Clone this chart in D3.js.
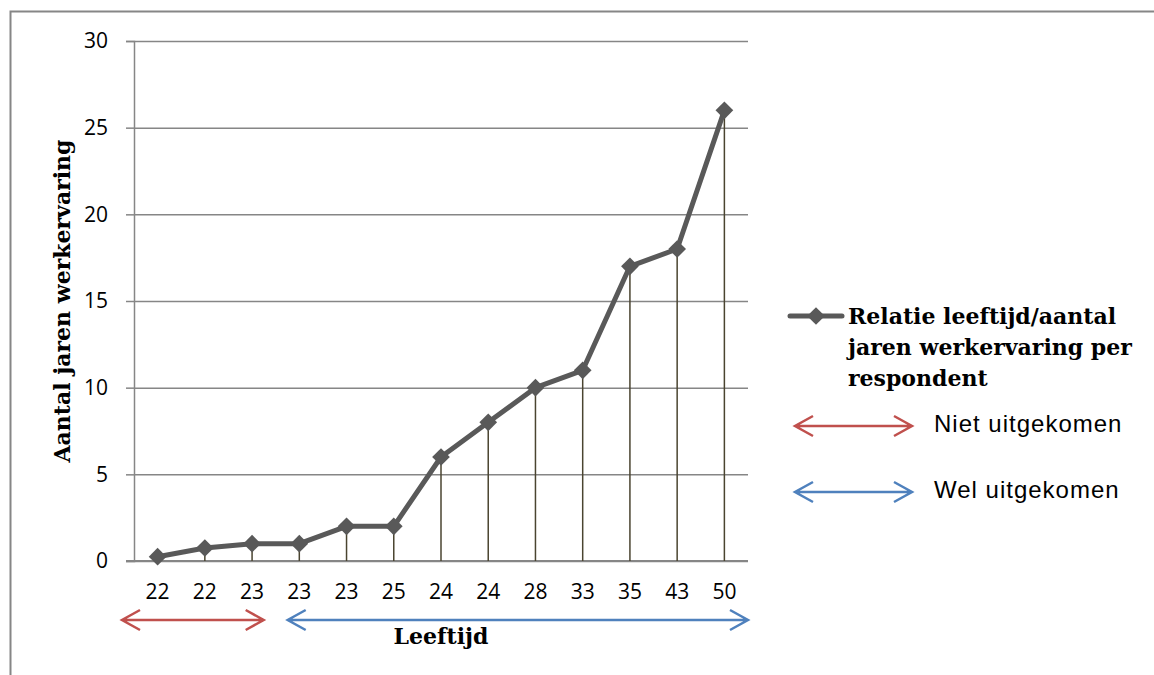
<!DOCTYPE html>
<html>
<head>
<meta charset="utf-8">
<script src="https://cdn.jsdelivr.net/npm/d3@7"></script>
<style>
  body { margin: 0; background: #fff; }
  svg text { fill: #000; }
  .serif { font-family: "DejaVu Serif", "Liberation Serif", serif; font-weight: bold; }
  .legend-plain { font-family: "Liberation Sans", "Open Sans", sans-serif; font-size: 24px; letter-spacing: 1px; }
</style>
</head>
<body>
<div id="chart"></div>
<script>
// respondent ages (x categories) and years of work experience
var ages = ["22", "22", "23", "23", "23", "25", "24", "24", "28", "33", "35", "43", "50"];
var experience = [0.25, 0.75, 1, 1, 2, 2, 6, 8, 10, 11, 17, 18, 26];
var yTicks = [0, 5, 10, 15, 20, 25, 30];
// groups: first 3 respondents "niet uitgekomen", rest "wel uitgekomen"
var groups = [
  { label: "Niet uitgekomen", from: 0, to: 2, color: "#c0504d" },
  { label: "Wel uitgekomen", from: 3, to: 12, color: "#4f81bd" }
];
var seriesName = ["Relatie leeftijd/aantal", "jaren werkervaring per", "respondent"];

var width = 1154, height = 675;
var margin = { left: 134, top: 41, right: 406, bottom: 114 };

var svg = d3.select("#chart").append("svg")
  .attr("width", width).attr("height", height);

// outer frame (only top and left are visible in the picture)
svg.append("path")
  .attr("d", "M10.5," + height + "V11.5H" + width)
  .attr("fill", "none").attr("stroke", "#868686").attr("stroke-width", 2);

var x = d3.scaleBand()
  .domain(d3.range(ages.length))
  .range([margin.left, width - margin.right]);

var y = d3.scaleLinear()
  .domain([0, 30])
  .range([height - margin.bottom, margin.top]);

// gridlines + y axis
var yAxis = svg.append("g")
  .attr("transform", "translate(" + margin.left + ",0)")
  .call(d3.axisLeft(y).tickValues(yTicks).tickSize(8).tickPadding(18));
yAxis.select(".domain").attr("stroke", "#868686").attr("stroke-width", 1.5);
yAxis.selectAll(".tick line").attr("stroke", "#868686").attr("stroke-width", 1.5);
yAxis.selectAll(".tick").append("line")
  .attr("x1", 0).attr("x2", width - margin.right - margin.left)
  .attr("stroke", "#868686").attr("stroke-width", 1.5);

// x axis
var xAxis = svg.append("g")
  .attr("transform", "translate(0," + y(0) + ")")
  .call(d3.axisBottom(x).tickFormat(function(i) { return ages[i]; }).tickSize(0).tickPadding(23));
xAxis.select(".domain").attr("stroke", "#868686").attr("stroke-width", 2)
  .attr("d", "M" + (margin.left - 8) + ",0H" + (width - margin.right));

svg.selectAll(".tick text")
  .style("font-family", "'Open Sans', 'Liberation Sans', sans-serif")
  .style("font-size", "21px")
  .attr("fill", "#000");

var cx = function(i) { return x(i) + x.bandwidth() / 2; };

// drop lines
svg.append("g").selectAll("line.drop")
  .data(experience)
  .enter().append("line")
  .attr("class", "drop")
  .attr("x1", function(d, i) { return cx(i); })
  .attr("x2", function(d, i) { return cx(i); })
  .attr("y1", function(d) { return y(d); })
  .attr("y2", y(0))
  .attr("stroke", "#4a4430").attr("stroke-width", 1.5);

var line = d3.line()
  .x(function(d, i) { return cx(i); })
  .y(function(d) { return y(d); });

svg.append("path")
  .datum(experience)
  .attr("d", line)
  .attr("fill", "none")
  .attr("stroke", "#595959")
  .attr("stroke-width", 5)
  .attr("stroke-linejoin", "round");

var diamond = d3.symbol().type(d3.symbolDiamond2).size(200);

svg.append("g").selectAll("path.marker")
  .data(experience)
  .enter().append("path")
  .attr("class", "marker")
  .attr("d", diamond)
  .attr("transform", function(d, i) { return "translate(" + cx(i) + "," + y(d) + ")"; })
  .attr("fill", "#595959");

// axis titles
svg.append("text")
  .attr("class", "serif")
  .attr("transform", "translate(70," + 301 + ") rotate(-90)")
  .attr("text-anchor", "middle")
  .style("font-size", "22px")
  .text("Aantal jaren werkervaring");

svg.append("text")
  .attr("class", "serif")
  .attr("x", 441).attr("y", 644)
  .attr("text-anchor", "middle")
  .style("font-size", "22px")
  .text("Leeftijd");

function doubleArrow(g, x1, x2, yy, color) {
  var h = 10;
  g.append("path")
    .attr("d", "M" + x1 + "," + yy + "H" + x2 +
      "M" + (x1 + h * 1.8) + "," + (yy - h) + "L" + x1 + "," + yy + "L" + (x1 + h * 1.8) + "," + (yy + h) +
      "M" + (x2 - h * 1.8) + "," + (yy - h) + "L" + x2 + "," + yy + "L" + (x2 - h * 1.8) + "," + (yy + h))
    .attr("fill", "none").attr("stroke", color).attr("stroke-width", 2.5);
}

// group arrows under the axis
groups.forEach(function(gr, k) {
  var x1 = k === 0 ? x(gr.from) - 12 : x(gr.from) + 12;
  var x2 = k === 0 ? x(gr.to) + x.bandwidth() - 12 : x(gr.to) + x.bandwidth();
  doubleArrow(svg, x1, x2, 620, gr.color);
});

// legend
var lg = svg.append("g");
lg.append("line")
  .attr("x1", 790).attr("x2", 842).attr("y1", 316).attr("y2", 316)
  .attr("stroke", "#595959").attr("stroke-width", 5).attr("stroke-linecap", "round");
lg.append("path")
  .attr("d", diamond)
  .attr("transform", "translate(816,316)")
  .attr("fill", "#595959");
lg.selectAll("text.series")
  .data(seriesName)
  .enter().append("text")
  .attr("class", "serif series")
  .attr("x", 848)
  .attr("y", function(d, i) { return 324 + i * 31; })
  .style("font-size", "22px")
  .text(function(d) { return d; });

groups.forEach(function(gr, k) {
  var yy = 426 + k * 66;
  doubleArrow(lg, 795, 912, yy, gr.color);
  lg.append("text")
    .attr("class", "legend-plain")
    .attr("x", 934).attr("y", yy + 6)
    .text(gr.label);
});
</script>
</body>
</html>
